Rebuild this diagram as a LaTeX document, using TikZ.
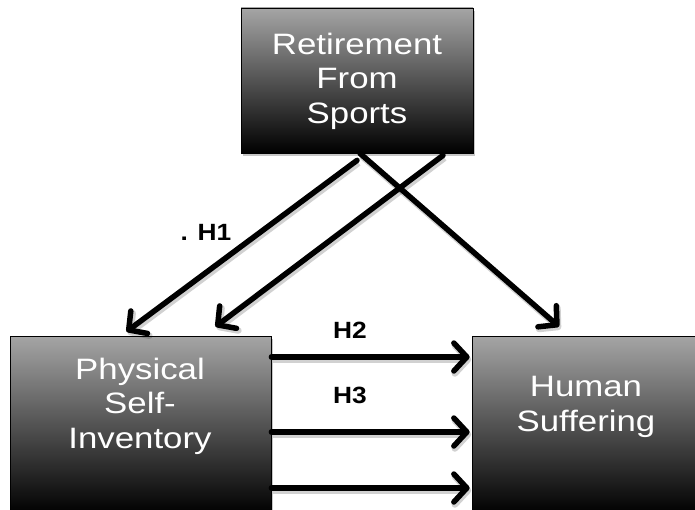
\documentclass[tikz,border=0pt]{standalone}
\usepackage{fontspec}
\setmainfont{Liberation Sans}
\newfontfamily\widesans{Liberation Sans}[FakeStretch=1.18]
\newfontfamily\widelabel{Liberation Sans}[FakeStretch=1.12]
\usetikzlibrary{arrows.meta,shadows}
\definecolor{boxtop}{RGB}{165,165,165}
\tikzset{
  box/.style={draw=black, line width=0.8pt, top color=boxtop, bottom color=black,
    drop shadow={shadow xshift=2pt, shadow yshift=-3pt, opacity=0.45}, inner sep=0pt},
  boxtext/.style={text=white, align=center, font=\widesans\fontsize{29.5}{34.5}\selectfont},
  conn/.style={line width=5.5pt, line cap=round,
    -{Straight Barb[length=13pt,width=28pt,line cap=round,line join=round]},
    preaction={draw=black, opacity=0.18, line width=6.5pt,
      transform canvas={shift={(1.5pt,-2.5pt)}}}},
  hlabel/.style={font=\widelabel\bfseries\fontsize{23.5}{25}\selectfont}
}
\begin{document}
\begin{tikzpicture}[x=1pt,y=-1pt]
\useasboundingbox (0,0) rectangle (695,510);
\node[box, minimum width=232pt, minimum height=145pt] (top) at (357,80.5) {};
\node[box, minimum width=261pt, minimum height=178pt] (left) at (140.5,425) {};
\node[box, minimum width=226pt, minimum height=178pt] (right) at (585,425) {};
\node[boxtext] (toptext) at (357,81) {Retirement\\From\\Sports};
\node[boxtext] (lefttext) at (140,406) {Physical\\Self-\\Inventory};
\node[boxtext] (righttext) at (586,407) {Human\\Suffering};
\draw[conn] ([yshift=-7pt]top.south) -- ([xshift=-14pt,yshift=4pt]left.north);
\draw[conn] ([xshift=86pt,yshift=-2pt]top.south) -- ([xshift=75pt,yshift=9pt]left.north);
\draw[conn] ([xshift=3pt]top.south) -- ([xshift=-26pt,yshift=9pt]right.north);
\draw[conn] ([yshift=68pt]left.east) -- ([xshift=-2pt,yshift=68pt]right.west);
\draw[conn] ([yshift=-7pt]left.east) -- ([xshift=-2pt,yshift=-7pt]right.west);
\draw[conn] ([yshift=-63pt]left.east) -- ([xshift=-2pt,yshift=-63pt]right.west);
\node[hlabel] (h1) at (206,232) {. H1};
\node[hlabel] (h2) at (350,330) {H2};
\node[hlabel] (h3) at (350,395) {H3};
\end{tikzpicture}
\end{document}
